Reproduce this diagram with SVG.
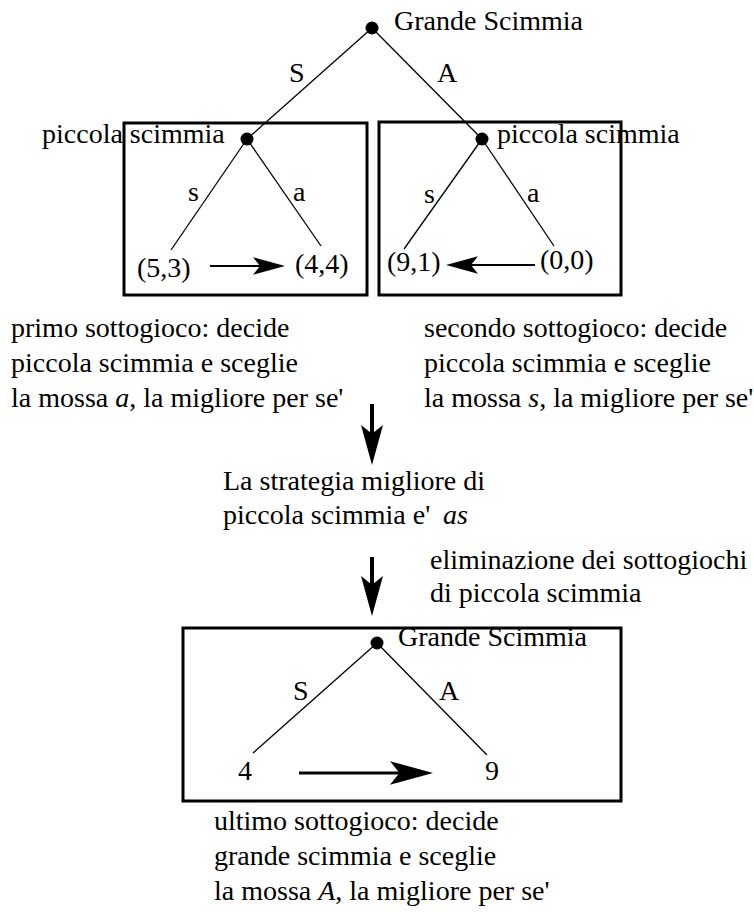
<svg xmlns="http://www.w3.org/2000/svg" xmlns:xlink="http://www.w3.org/1999/xlink" width="754" height="912" viewBox="0 0 754 912">
<style>
text { font-family: 'Liberation Serif', 'Tinos', 'Times New Roman', 'DejaVu Serif', serif; font-size: 28px; fill: #000; }
.it { font-style: italic; }
.edge { stroke: #000; stroke-width: 1.3; fill: none; }
.box { stroke: #000; stroke-width: 3; fill: none; }
.shaft { stroke: #000; fill: none; }
.dot { fill: #000; }
</style>
<defs>
<path id="head" d="M0,0 L-1,-0.275 L-0.78,0 L-1,0.275 Z" fill="#000"/>
</defs>
<rect width="754" height="912" fill="#fff"/>

<g id="box-left"><rect class="box" x="124" y="123" width="243" height="172"/></g>
<g id="box-right"><rect class="box" x="379" y="122" width="242" height="173"/></g>
<g id="box-bottom"><rect class="box" x="183" y="628" width="438" height="173"/></g>

<g id="connectors">
  <line class="edge" x1="372" y1="28" x2="247" y2="139"/>
  <line class="edge" x1="372" y1="28" x2="482" y2="139"/>
  <line class="edge" x1="247" y1="139" x2="171" y2="250"/>
  <line class="edge" x1="247" y1="139" x2="321" y2="246"/>
  <line class="edge" x1="482" y1="139" x2="404" y2="249"/>
  <line class="edge" x1="482" y1="139" x2="554" y2="246"/>
  <line class="edge" x1="377" y1="643" x2="253" y2="753"/>
  <line class="edge" x1="377" y1="643" x2="487" y2="755"/>
  <line class="shaft" stroke-width="2" x1="210" y1="266" x2="262" y2="266"/>
  <use xlink:href="#head" transform="translate(285,266) scale(32)"/>
  <line class="shaft" stroke-width="2" x1="535" y1="265" x2="470" y2="265"/>
  <use xlink:href="#head" transform="translate(446,265) rotate(180) scale(32)"/>
  <line class="shaft" stroke-width="3" x1="299" y1="773" x2="402" y2="773"/>
  <use xlink:href="#head" transform="translate(433,773) scale(43)"/>
  <line class="shaft" stroke-width="4" x1="372" y1="404" x2="372" y2="440"/>
  <use xlink:href="#head" transform="translate(372,465) rotate(90) scale(40)"/>
  <line class="shaft" stroke-width="4" x1="372" y1="557" x2="372" y2="592"/>
  <use xlink:href="#head" transform="translate(372,616) rotate(90) scale(40)"/>
</g>

<g id="root">
  <circle class="dot" cx="372" cy="28" r="6.5"/>
  <text x="394" y="30">Grande Scimmia</text>
</g>
<text id="label-S" x="289" y="82">S</text>
<text id="label-A" x="437" y="82">A</text>

<g id="node-left">
  <circle class="dot" cx="247" cy="139" r="6.5"/>
  <text x="42" y="143">piccola scimmia</text>
</g>
<g id="node-right">
  <circle class="dot" cx="482" cy="139" r="6.5"/>
  <text x="497" y="143">piccola scimmia</text>
</g>
<text x="188" y="201">s</text>
<text x="293" y="201">a</text>
<text x="424" y="203">s</text>
<text x="527" y="202">a</text>

<g id="leaf-53"><text x="137" y="277">(5,3)</text></g>
<g id="leaf-44"><text x="295" y="273">(4,4)</text></g>
<g id="leaf-91"><text x="387" y="271">(9,1)</text></g>
<g id="leaf-00"><text x="540" y="269">(0,0)</text></g>

<g id="text-first">
  <text x="11" y="337">primo sottogioco: decide</text>
  <text x="11" y="372">piccola scimmia e sceglie</text>
  <text x="11" y="407">la mossa <tspan class="it">a</tspan>, la migliore per se'</text>
</g>
<g id="text-second">
  <text x="424" y="337">secondo sottogioco: decide</text>
  <text x="424" y="372">piccola scimmia e sceglie</text>
  <text x="424" y="407">la mossa <tspan class="it">s</tspan>, la migliore per se'</text>
</g>
<g id="text-strategy">
  <text x="223" y="490">La strategia migliore di</text>
  <text x="223" y="524">piccola scimmia e' <tspan class="it" x="443">as</tspan></text>
</g>
<g id="text-elimination">
  <text x="430" y="569">eliminazione dei sottogiochi</text>
  <text x="430" y="602">di piccola scimmia</text>
</g>

<g id="root-bottom">
  <circle class="dot" cx="377" cy="643" r="6.5"/>
  <text x="398" y="646">Grande Scimmia</text>
</g>
<text x="293" y="700">S</text>
<text x="439" y="700">A</text>
<g id="leaf-4"><text x="238" y="780">4</text></g>
<g id="leaf-9"><text x="485" y="780">9</text></g>

<g id="text-last">
  <text x="214" y="830">ultimo sottogioco: decide</text>
  <text x="214" y="865">grande scimmia e sceglie</text>
  <text x="214" y="900">la mossa <tspan class="it">A</tspan>, la migliore per se'</text>
</g>
</svg>
